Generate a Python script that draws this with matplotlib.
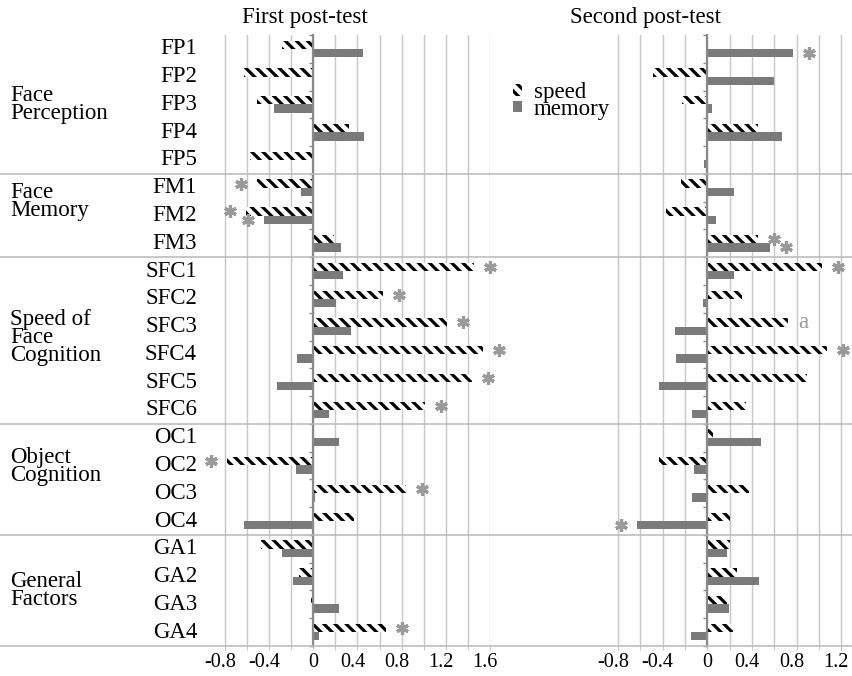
import numpy as np
import matplotlib
matplotlib.use('Agg')
import matplotlib.pyplot as plt
from matplotlib import transforms
from matplotlib.lines import Line2D
from matplotlib.patches import Patch

plt.rcParams['font.family'] = ['Liberation Serif', 'DejaVu Serif']
plt.rcParams['hatch.linewidth'] = 2.3
plt.rcParams['axes.unicode_minus'] = False

# ---- data -------------------------------------------------------------
categories = ['FP1', 'FP2', 'FP3', 'FP4', 'FP5',
              'FM1', 'FM2', 'FM3',
              'SFC1', 'SFC2', 'SFC3', 'SFC4', 'SFC5', 'SFC6',
              'OC1', 'OC2', 'OC3', 'OC4',
              'GA1', 'GA2', 'GA3', 'GA4']
groups = ['Face\nPerception', 'Face\nMemory', 'Speed of\nFace\nCognition',
          'Object\nCognition', 'General\nFactors']
group_sizes = [5, 3, 6, 4, 4]

speed_1 = [-0.28, -0.63, -0.51, 0.32, -0.57, -0.51, -0.61, 0.19,
           1.46, 0.63, 1.21, 1.54, 1.44, 1.01,
           -0.01, -0.78, 0.84, 0.37, -0.47, -0.13, -0.02, 0.66]
memory_1 = [0.45, 0.0, -0.36, 0.46, 0.0, -0.11, -0.45, 0.25,
            0.27, 0.21, 0.34, -0.15, -0.33, 0.14,
            0.23, -0.16, 0.02, -0.63, -0.28, -0.18, 0.23, 0.05]
speed_2 = [-0.01, -0.49, -0.23, 0.45, 0.0, -0.24, -0.37, 0.45,
           1.03, 0.31, 0.72, 1.07, 0.89, 0.35,
           0.05, -0.43, 0.37, 0.2, 0.2, 0.27, 0.18, 0.23]
memory_2 = [0.77, 0.6, 0.04, 0.67, -0.03, 0.24, 0.08, 0.56,
            0.24, -0.04, -0.29, -0.28, -0.43, -0.14,
            0.48, -0.12, -0.14, -0.63, 0.18, 0.46, 0.19, -0.15]

# significance marks
marks_speed_1 = {'FM1': '*', 'FM2': '*', 'SFC1': '*', 'SFC2': '*', 'SFC3': '*',
                 'SFC4': '*', 'SFC5': '*', 'SFC6': '*', 'OC2': '*', 'OC3': '*',
                 'GA4': '*'}
marks_memory_1 = {'FM2': '*'}
marks_speed_2 = {'FM3': '*', 'SFC1': '*', 'SFC3': 'a', 'SFC4': '*'}
marks_memory_2 = {'FP1': '*', 'FM3': '*', 'OC4': '*'}

ticks_1 = [-0.8, -0.4, 0, 0.4, 0.8, 1.2, 1.6]
ticks_2 = [-0.8, -0.4, 0, 0.4, 0.8, 1.2]
titles = ['First post-test', 'Second post-test']

# ---- figure -----------------------------------------------------------
W, H = 852, 676
fig = plt.figure(figsize=(W / 100, H / 100), dpi=100)

GREY = '#7a7a7a'
GRID = '#c6c6c6'
MARK = '#9a9a9a'
FS = 16.5
HATCH = '\\\\\\'


def rect(x0, x1, top=35, bottom=646):
    return [x0 / W, 1 - bottom / H, (x1 - x0) / W, (bottom - top) / H]


ax1 = fig.add_axes(rect(202.9, 489.9))
ax2 = fig.add_axes(rect(595.8, 852.3))

y = np.arange(len(categories))
bh = 0.3


def put_marks(ax, values, marks, dy):
    for cat, m in marks.items():
        i = categories.index(cat)
        v = values[i]
        sgn = 1 if v >= 0 else -1
        tr = transforms.offset_copy(ax.transData, fig=fig, x=sgn * 16, units='dots')
        if m == '*':
            ax.plot(v, i + dy, marker=(6, 2, 0), ms=9, mew=2.3, color=MARK,
                    transform=tr, clip_on=False, zorder=5)
        else:
            ax.text(v, i + dy, m, color=MARK, fontsize=FS, ha='center',
                    va='center', transform=tr, clip_on=False, zorder=5)


def panel(ax, speed, memory, xlim, ticks, ms, mm):
    ax.barh(y - bh / 2, speed, height=bh, color='white', edgecolor='black',
            hatch=HATCH, linewidth=0, zorder=3)
    ax.barh(y + bh / 2, memory, height=bh, color=GREY, linewidth=0, zorder=3)
    ax.set_xlim(*xlim)
    ax.set_ylim(len(categories) - 0.5, -0.5)
    grid = np.round(np.arange(ticks[0], ticks[-1] + 0.01, 0.2), 1) + 0.0
    ax.set_xticks(grid)
    ax.set_xticklabels([])
    # tick labels drawn by hand: excel puts the non-zero ones a little left
    xb = transforms.blended_transform_factory(ax.transData, ax.transAxes)
    for v in ticks:
        txt = f'{v + 0:g}'
        dx = 0 if v == 0 else -5
        tr = transforms.offset_copy(xb, fig=fig, x=dx, y=-7, units='dots')
        ax.text(v, 0, txt, transform=tr, ha='center', va='top', fontsize=14.5,
                clip_on=False)
    ax.grid(axis='x', color=GRID, lw=1, zorder=0)
    for s in ['top', 'right', 'bottom']:
        ax.spines[s].set_visible(False)
    ax.spines['left'].set_position(('data', 0))
    ax.spines['left'].set_color('#8a8a8a')
    ax.spines['left'].set_linewidth(1.6)
    ax.spines['left'].set_zorder(4)
    ax.set_yticks(np.arange(-0.5, len(categories)))
    ax.set_yticklabels([])
    ax.tick_params(axis='y', length=3, color='#8a8a8a', width=1)
    ax.tick_params(axis='x', length=3, color=GRID)
    put_marks(ax, speed, ms, -bh / 2)
    put_marks(ax, memory, mm, bh / 2)


panel(ax1, speed_1, memory_1, (-1.0, 1.6), ticks_1, marks_speed_1, marks_memory_1)
panel(ax2, speed_2, memory_2, (-1.0, 1.3), ticks_2, marks_speed_2, marks_memory_2)

# labels on the left
lab_tr = transforms.blended_transform_factory(fig.transFigure, ax1.transData)
for i, c in enumerate(categories):
    fig.text(197 / W, i, c, transform=lab_tr, ha='right', va='center', fontsize=FS)

group_label_rows = [2.0, 5.5, 10.4, 15.05, 19.5]
for g, r in zip(groups, group_label_rows):
    fig.text(10 / W, r, g, transform=lab_tr, ha='left', va='center',
             fontsize=FS, linespacing=0.8)

# separators across the whole width
bounds = np.cumsum(group_sizes) - 0.5
for b in bounds:
    fig.add_artist(Line2D([0, 1], [b, b], transform=lab_tr, color='#b8b8b8', lw=1.1))

fig.text(305 / W, 1 - 18 / H, titles[0], ha='center', va='center', fontsize=FS)
fig.text(645 / W, 1 - 18 / H, titles[1], ha='center', va='center', fontsize=FS)

handles = [Patch(facecolor='white', edgecolor='black', hatch=HATCH, lw=0),
           Patch(facecolor=GREY, lw=0)]
fig.legend(handles, ['speed', 'memory'], loc='upper left',
           bbox_to_anchor=(513 / W, 1 - 82 / H), frameon=False, fontsize=FS,
           handlelength=0.4, handleheight=0.4, handletextpad=0.5,
           labelspacing=-0.18, borderpad=0, borderaxespad=0)

fig.savefig('out.png', dpi=100)
